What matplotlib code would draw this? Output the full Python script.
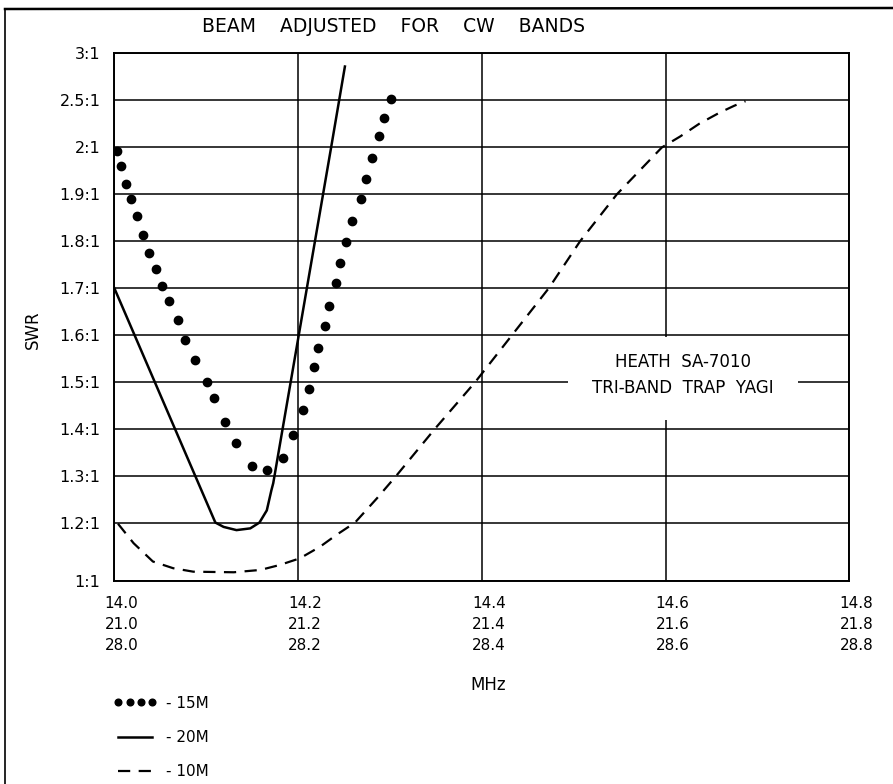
import numpy as np
import matplotlib
matplotlib.use("Agg")
import matplotlib.pyplot as plt
from matplotlib.patches import Rectangle
from matplotlib.lines import Line2D
from matplotlib.transforms import ScaledTranslation

# SWR axis levels (drawn evenly spaced except the bottom band)
swr_levels = [1.0, 1.2, 1.3, 1.4, 1.5, 1.6, 1.7, 1.8, 1.9, 2.0, 2.5, 3.0]
swr_labels = ["1:1", "1.2:1", "1.3:1", "1.4:1", "1.5:1", "1.6:1", "1.7:1",
              "1.8:1", "1.9:1", "2:1", "2.5:1", "3:1"]
swr_rows = [0, 1.24, 2.24, 3.24, 4.24, 5.24, 6.24, 7.24, 8.24, 9.24, 10.25, 11.26]

freq_ticks = [14.0, 14.2, 14.4, 14.6, 14.8]
band15_ticks = ["21.0", "21.2", "21.4", "21.6", "21.8"]
band10_ticks = ["28.0", "28.2", "28.4", "28.6", "28.8"]

# 15 M (dots), read on the 20 M frequency scale
f15 = [14.003, 14.007, 14.013, 14.018, 14.025, 14.031, 14.038, 14.045, 14.052,
       14.059, 14.069, 14.077, 14.088, 14.101, 14.109, 14.120, 14.132, 14.150,
       14.166, 14.184, 14.195, 14.205, 14.212, 14.217, 14.222, 14.229, 14.234,
       14.241, 14.246, 14.252, 14.259, 14.268, 14.274, 14.280, 14.288, 14.294,
       14.301]
swr15 = [1.992, 1.960, 1.922, 1.891, 1.853, 1.814, 1.774, 1.740, 1.705, 1.672,
         1.631, 1.589, 1.547, 1.500, 1.465, 1.414, 1.369, 1.320, 1.312, 1.337,
         1.387, 1.441, 1.485, 1.532, 1.573, 1.619, 1.662, 1.710, 1.754, 1.799,
         1.843, 1.890, 1.933, 1.977, 2.119, 2.315, 2.51]

# 20 M (solid)
f20 = [14.000, 14.108, 14.110, 14.119, 14.133, 14.148, 14.158, 14.166, 14.171,
       14.173, 14.236, 14.251]
swr20 = [1.70, 1.209, 1.20, 1.185, 1.174, 1.180, 1.200, 1.226, 1.269, 1.284,
         2.0, 2.854]

# 10 M (dashed)
f10 = [14.004, 14.021, 14.042, 14.064, 14.086, 14.130, 14.159, 14.180, 14.202,
       14.224, 14.242, 14.262, 14.286, 14.307, 14.349, 14.393, 14.433, 14.473,
       14.507, 14.547, 14.596, 14.616, 14.637, 14.659, 14.675, 14.687]
swr10 = [1.196, 1.129, 1.066, 1.043, 1.031, 1.029, 1.037, 1.054, 1.077, 1.117,
         1.158, 1.200, 1.252, 1.300, 1.400, 1.500, 1.600, 1.700, 1.800, 1.900,
         2.000, 2.116, 2.252, 2.368, 2.441, 2.488]

plt.rcParams['font.family'] = ['DejaVu Sans']

fig = plt.figure(figsize=(8.93, 7.84), dpi=100)
W, H = 893, 784
ax = fig.add_axes([114.3 / W, 1 - 580.7 / H, 735 / W, 528 / H])


def fwd(v):
    return np.interp(v, swr_levels, swr_rows)


def inv(r):
    return np.interp(r, swr_rows, swr_levels)


ax.set_yscale('function', functions=(fwd, inv))
ax.set_ylim(1.0, 3.0)
ax.set_xlim(14.0, 14.8)

ax.set_yticks(swr_levels)
ax.set_yticklabels(swr_labels, fontsize=11.5)
ax.yaxis.set_minor_locator(matplotlib.ticker.NullLocator())
ax.set_xticks(freq_ticks)
ax.set_xticklabels([f"{f:.1f}\n{b}\n{c}" for f, b, c in zip(freq_ticks, band15_ticks, band10_ticks)],
                   fontsize=11, linespacing=1.5, va='top')
ax.tick_params(axis='both', length=0)
ax.tick_params(axis='y', pad=10)
ax.tick_params(axis='x', pad=11)
shift = ScaledTranslation(7 / 100, 0, fig.dpi_scale_trans)
for lbl in ax.get_xticklabels():
    lbl.set_transform(lbl.get_transform() + shift)

ax.set_axisbelow(True)
ax.grid(True, color='black', linewidth=1.1)
for sp in ax.spines.values():
    sp.set_linewidth(1.4)

# label box interrupting the grid
ax.add_patch(Rectangle((0.617, 0.304), 0.313, 0.157, transform=ax.transAxes,
                       facecolor='white', edgecolor='none', zorder=1))
ax.text(0.774, 0.414, "HEATH  SA-7010", transform=ax.transAxes, ha='center',
        va='center', fontsize=12, zorder=3)
ax.text(0.774, 0.365, "TRI-BAND  TRAP  YAGI", transform=ax.transAxes, ha='center',
        va='center', fontsize=12, zorder=3)

ax.plot(f15, swr15, linestyle='none', marker='o', markersize=6, color='black',
        label='- 15M', zorder=3)
ax.plot(f20, swr20, color='black', linewidth=1.8, label='- 20M', zorder=3)
ax.plot(f10, swr10, color='black', linewidth=1.6, linestyle=(0, (5.5, 3.8)),
        label='- 10M', zorder=3)

fig.text(393 / W, 1 - 27 / H, "BEAM    ADJUSTED    FOR    CW    BANDS", ha='center',
         va='center', fontsize=13.5)
fig.text(33 / W, 1 - 330 / H, "SWR", rotation=90, ha='center', va='center', fontsize=12)
fig.text(488 / W, 1 - 685 / H, "MHz", ha='center', va='center', fontsize=12)

ax.legend(loc='upper left', bbox_to_anchor=(100 / W, 1 - 682 / H),
          bbox_transform=fig.transFigure, frameon=False, numpoints=4,
          markerscale=0.8, handlelength=2.8, handletextpad=0.6,
          labelspacing=1.25, fontsize=11)

# page frame lines
fig.add_artist(Line2D([5 / W, 1.0], [1 - 9 / H, 1 - 8 / H], color='black',
                      linewidth=1.8, transform=fig.transFigure))
fig.add_artist(Line2D([5 / W, 5 / W], [1 - 9 / H, 0.0], color='black',
                      linewidth=1.2, transform=fig.transFigure))

fig.savefig("out.png", dpi=100)
